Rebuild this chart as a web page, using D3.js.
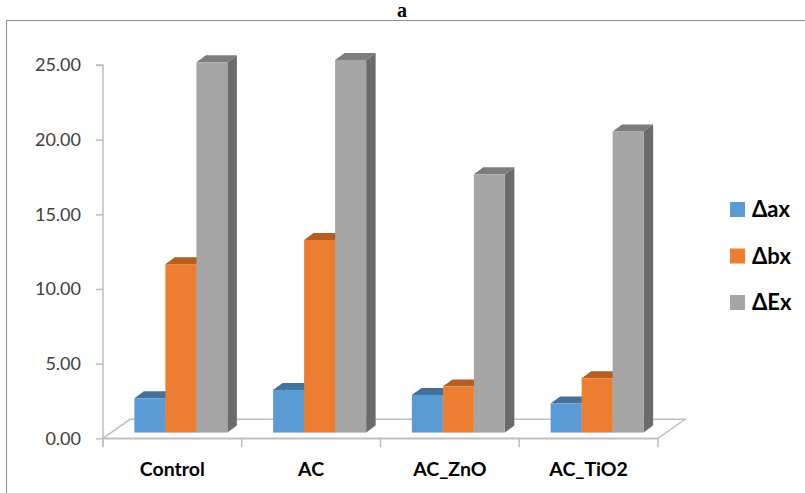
<!DOCTYPE html>
<html>
<head>
<meta charset="utf-8">
<script src="https://cdn.jsdelivr.net/npm/d3@7"></script>
<style>
  body { margin: 0; background: #fff; }
  svg { display: block; }
</style>
</head>
<body>
<div id="chart"></div>
<script>
var categories = ["Control", "AC", "AC_ZnO", "AC_TiO2"];
var seriesNames = ["\u0394ax", "\u0394bx", "\u0394Ex"];
var dax = [2.30, 2.86, 2.52, 1.95];
var dbx = [11.28, 12.90, 3.08, 3.64];
var dEx = [24.80, 24.96, 17.30, 20.16];
var yTicks = [0, 5, 10, 15, 20, 25];

var seriesValues = [dax, dbx, dEx];
var front = ["#5B9BD5", "#ED7D31", "#A5A5A5"];
var topc = ["#41719C", "#B65D20", "#7C7C7C"];
var side = ["#4A80B4", "#C6651F", "#6B6B6B"];

var width = 805, height = 493;

var svg = d3.select("#chart").append("svg")
  .attr("width", width)
  .attr("height", height);

// frame
svg.append("rect")
  .attr("x", 6.5).attr("y", 20.5)
  .attr("width", 820).attr("height", 500)
  .attr("fill", "none")
  .attr("stroke", "#8c8c8c");

svg.append("text")
  .attr("x", 402).attr("y", 17)
  .attr("text-anchor", "middle")
  .style("font-family", "Liberation Serif, serif")
  .style("font-weight", "bold")
  .style("font-size", "20px")
  .text("a");

var x0 = d3.scaleBand().domain(categories).range([103, 658]);
var y = d3.scaleLinear().domain([0, 25]).range([438.3, 65]);

var floorD = {dx: 27, dy: -19};   // back of floor
var barD = {dx: 8.5, dy: -5.7};   // plane the bars stand on
var depth = {dx: 9.5, dy: -7};    // bar depth
var barW = 31;

// floor
var fl = y(0);
svg.append("path")
  .attr("d", "M" + [103, fl] + "L" + [103 + floorD.dx, fl + floorD.dy] +
    "L" + [658 + floorD.dx, fl + floorD.dy] + "L" + [658, fl] + "Z")
  .attr("fill", "#fff")
  .attr("stroke", "#BFBFBF")
  .attr("stroke-width", 1.5);

// y axis
var yAxis = d3.axisLeft(y).tickValues(yTicks).tickSize(7).tickPadding(15)
  .tickFormat(d3.format(".2f"));
var gy = svg.append("g").attr("transform", "translate(103,0)").call(yAxis);
gy.select(".domain").attr("stroke", "#BFBFBF").attr("stroke-width", 1.5)
  .attr("d", "M-7," + y(25) + "H0V" + (y(0) + 8));
gy.selectAll(".tick line").attr("stroke", "#BFBFBF").attr("stroke-width", 1.5);
gy.selectAll(".tick text")
  .attr("fill", "#404040")
  .style("font-family", "Lato, sans-serif")
  .style("font-size", "18px");

// x axis
var xAxis = d3.axisBottom(x0).tickSize(0).tickPadding(24);
var gx = svg.append("g").attr("transform", "translate(0," + y(0) + ")").call(xAxis);
gx.select(".domain").attr("stroke", "#BFBFBF").attr("stroke-width", 1.5);
gx.selectAll(".tick text")
  .attr("fill", "#000")
  .style("font-family", "Lato, sans-serif")
  .style("font-weight", "bold")
  .style("font-size", "19.5px");
var bounds = categories.map(function(c) { return x0(c); }).concat([658]);
gx.selectAll(".cat-tick").data(bounds).enter().append("line")
  .attr("x1", function(d) { return d; }).attr("x2", function(d) { return d; })
  .attr("y1", 0).attr("y2", 9)
  .attr("stroke", "#BFBFBF").attr("stroke-width", 1.5);

// bars
var x1 = d3.scaleBand().domain(d3.range(seriesNames.length)).range([0, barW * 3]);
var bars = [];
categories.forEach(function(c, ci) {
  seriesValues.forEach(function(vals, si) {
    bars.push({cat: c, s: si, v: vals[ci]});
  });
});

var g = svg.append("g");
bars.forEach(function(b) {
  var xl = x0(b.cat) + (x0.bandwidth() - barW * 3) / 2 + x1(b.s) + barD.dx;
  var xr = xl + barW;
  var yb = y(0) + barD.dy;
  var yt = y(b.v) + barD.dy;
  g.append("path")
    .attr("d", "M" + [xr, yb] + "L" + [xr + depth.dx, yb + depth.dy] +
      "L" + [xr + depth.dx, yt + depth.dy] + "L" + [xr, yt] + "Z")
    .attr("fill", side[b.s]);
  g.append("path")
    .attr("d", "M" + [xl, yt] + "L" + [xl + depth.dx, yt + depth.dy] +
      "L" + [xr + depth.dx, yt + depth.dy] + "L" + [xr, yt] + "Z")
    .attr("fill", topc[b.s]);
  g.append("rect")
    .attr("x", xl).attr("y", yt)
    .attr("width", barW).attr("height", yb - yt)
    .attr("fill", front[b.s]);
});

// legend
var lg = svg.append("g").selectAll("g").data(seriesNames).enter().append("g")
  .attr("transform", function(d, i) { return "translate(730," + (202 + i * 46.5) + ")"; });
lg.append("rect")
  .attr("width", 15).attr("height", 15)
  .attr("fill", function(d, i) { return front[i]; });
lg.append("text")
  .attr("x", 22).attr("y", 15)
  .style("font-family", "Lato, sans-serif")
  .style("font-weight", "bold")
  .style("font-size", "22px")
  .text(function(d) { return d; });
</script>
</body>
</html>
